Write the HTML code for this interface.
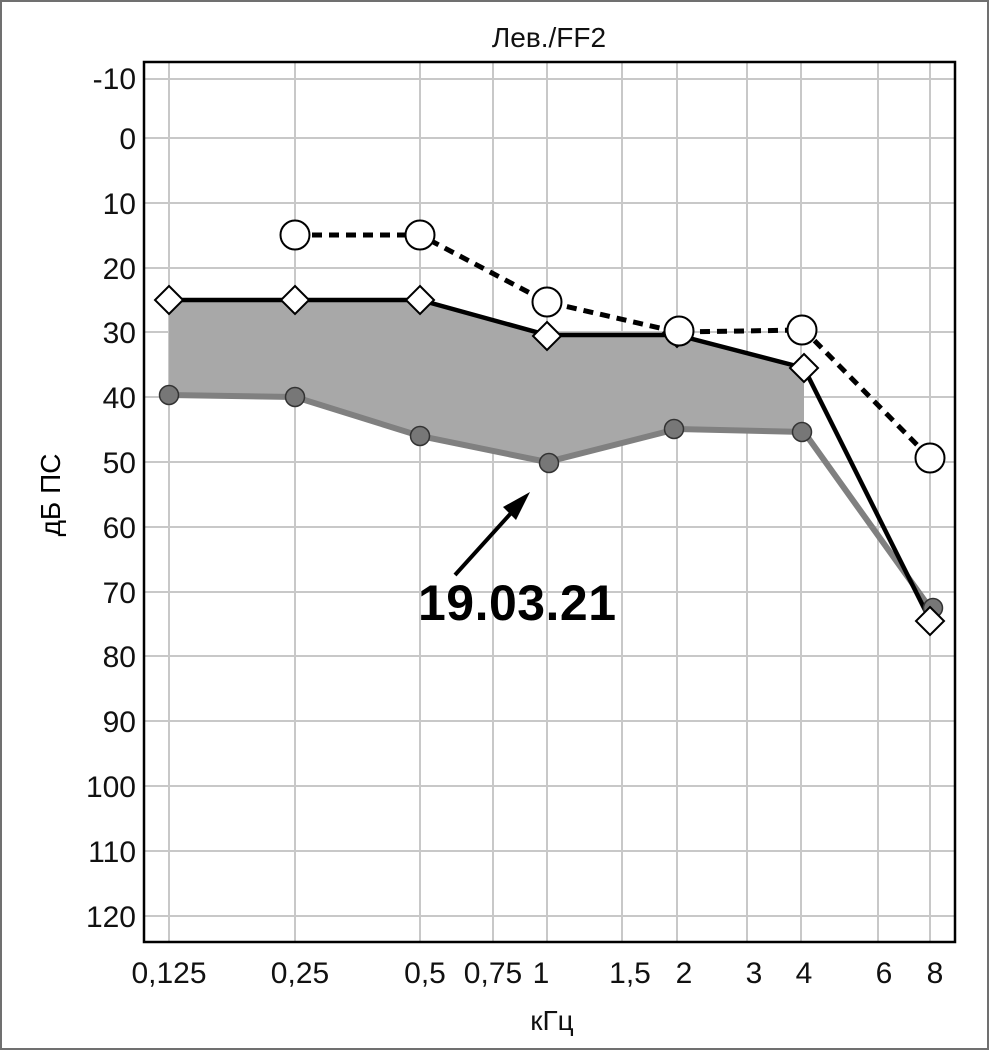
<!DOCTYPE html>
<html><head><meta charset="utf-8"><style>body{margin:0;background:#fff}svg{display:block}</style></head><body>
<svg width="995" height="1051" xmlns="http://www.w3.org/2000/svg" font-family="Liberation Sans Narrow, Liberation Sans, sans-serif">
<rect x="1" y="1" width="987" height="1048" fill="#fff" stroke="#707070" stroke-width="2"/>
<g stroke="#c8c8c8" stroke-width="2">
<line x1="169" y1="62" x2="169" y2="942"/><line x1="295" y1="62" x2="295" y2="942"/><line x1="420" y1="62" x2="420" y2="942"/><line x1="493" y1="62" x2="493" y2="942"/><line x1="547" y1="62" x2="547" y2="942"/><line x1="622" y1="62" x2="622" y2="942"/><line x1="677" y1="62" x2="677" y2="942"/><line x1="747" y1="62" x2="747" y2="942"/><line x1="801" y1="62" x2="801" y2="942"/><line x1="878" y1="62" x2="878" y2="942"/><line x1="930" y1="62" x2="930" y2="942"/>
<line x1="144" y1="79" x2="955" y2="79"/><line x1="144" y1="138" x2="955" y2="138"/><line x1="144" y1="203" x2="955" y2="203"/><line x1="144" y1="268" x2="955" y2="268"/><line x1="144" y1="332" x2="955" y2="332"/><line x1="144" y1="397" x2="955" y2="397"/><line x1="144" y1="462" x2="955" y2="462"/><line x1="144" y1="527" x2="955" y2="527"/><line x1="144" y1="592" x2="955" y2="592"/><line x1="144" y1="656" x2="955" y2="656"/><line x1="144" y1="721" x2="955" y2="721"/><line x1="144" y1="786" x2="955" y2="786"/><line x1="144" y1="851" x2="955" y2="851"/><line x1="144" y1="916" x2="955" y2="916"/>
</g>
<rect x="144" y="62" width="811" height="880" fill="none" stroke="#000" stroke-width="2.5"/>
<g font-size="30" text-anchor="end" fill="#111">
<text x="136" y="89">-10</text><text x="136" y="149">0</text><text x="136" y="214">10</text><text x="136" y="279">20</text><text x="136" y="343">30</text><text x="136" y="408">40</text><text x="136" y="473">50</text><text x="136" y="538">60</text><text x="136" y="603">70</text><text x="136" y="667">80</text><text x="136" y="732">90</text><text x="136" y="797">100</text><text x="136" y="862">110</text><text x="136" y="927">120</text>
</g>
<g font-size="30" text-anchor="middle" fill="#111">
<text x="169" y="983">0,125</text><text x="300" y="983">0,25</text><text x="425" y="983">0,5</text><text x="493" y="983">0,75</text><text x="541" y="983">1</text><text x="630" y="983">1,5</text><text x="684" y="983">2</text><text x="754" y="983">3</text><text x="804" y="983">4</text><text x="884" y="983">6</text><text x="935" y="983">8</text>
<text x="552" y="1030" font-size="28">кГц</text>
<text x="549" y="47" font-size="28">Лев./FF2</text>
</g>
<text transform="translate(60,495) rotate(-90)" font-size="28" text-anchor="middle">дБ ПС</text>
<polygon points="169,300 295,300 420,300 547,335 677,335 804,368 804,432 677,429 547,462 420,436 295,397 169,395" fill="#a8a8a8"/>
<polyline points="169,395 295,397 420,436 547,462 677,429 804,432 930,608" fill="none" stroke="#808080" stroke-width="6"/>
<polyline points="169,300 295,300 420,300 547,335 677,335 804,368 930,620" fill="none" stroke="#000" stroke-width="4.5"/>
<polyline points="295,235 420,235 547,302 677,332 804,330 930,458" fill="none" stroke="#000" stroke-width="5" stroke-dasharray="10,7"/>
<g fill="#777" stroke="#333" stroke-width="1.5">
<circle cx="169" cy="395" r="9.5"/><circle cx="295" cy="397" r="9.5"/><circle cx="420" cy="436" r="9.5"/><circle cx="549" cy="463" r="9.5"/><circle cx="674" cy="429" r="9.5"/><circle cx="802" cy="432" r="9.5"/><circle cx="933" cy="608" r="9.5"/>
</g>
<g fill="#fff" stroke="#000" stroke-width="2">
<polygon points="169,286 183,300 169,314 155,300"/><polygon points="295,286 309,300 295,314 281,300"/><polygon points="420,286 434,300 420,314 406,300"/><polygon points="547,322 561,336 547,350 533,336"/><polygon points="677,319 691,333 677,347 663,333"/><polygon points="804,354 818,368 804,382 790,368"/><polygon points="930,607 944,621 930,635 916,621"/>
<circle cx="295" cy="235" r="14.5"/><circle cx="420" cy="235" r="14.5"/><circle cx="547" cy="302" r="14.5"/><circle cx="679" cy="331" r="14.5"/><circle cx="802" cy="330" r="14.5"/><circle cx="930" cy="458" r="14.5"/>
</g>
<line x1="455" y1="575" x2="512" y2="512" stroke="#000" stroke-width="4"/>
<polygon points="530,492 503,507 516,520" fill="#000"/>
<text x="517" y="620" font-size="50" font-weight="bold" text-anchor="middle" font-family="Liberation Sans, sans-serif" textLength="198">19.03.21</text>
</svg>
</body></html>
